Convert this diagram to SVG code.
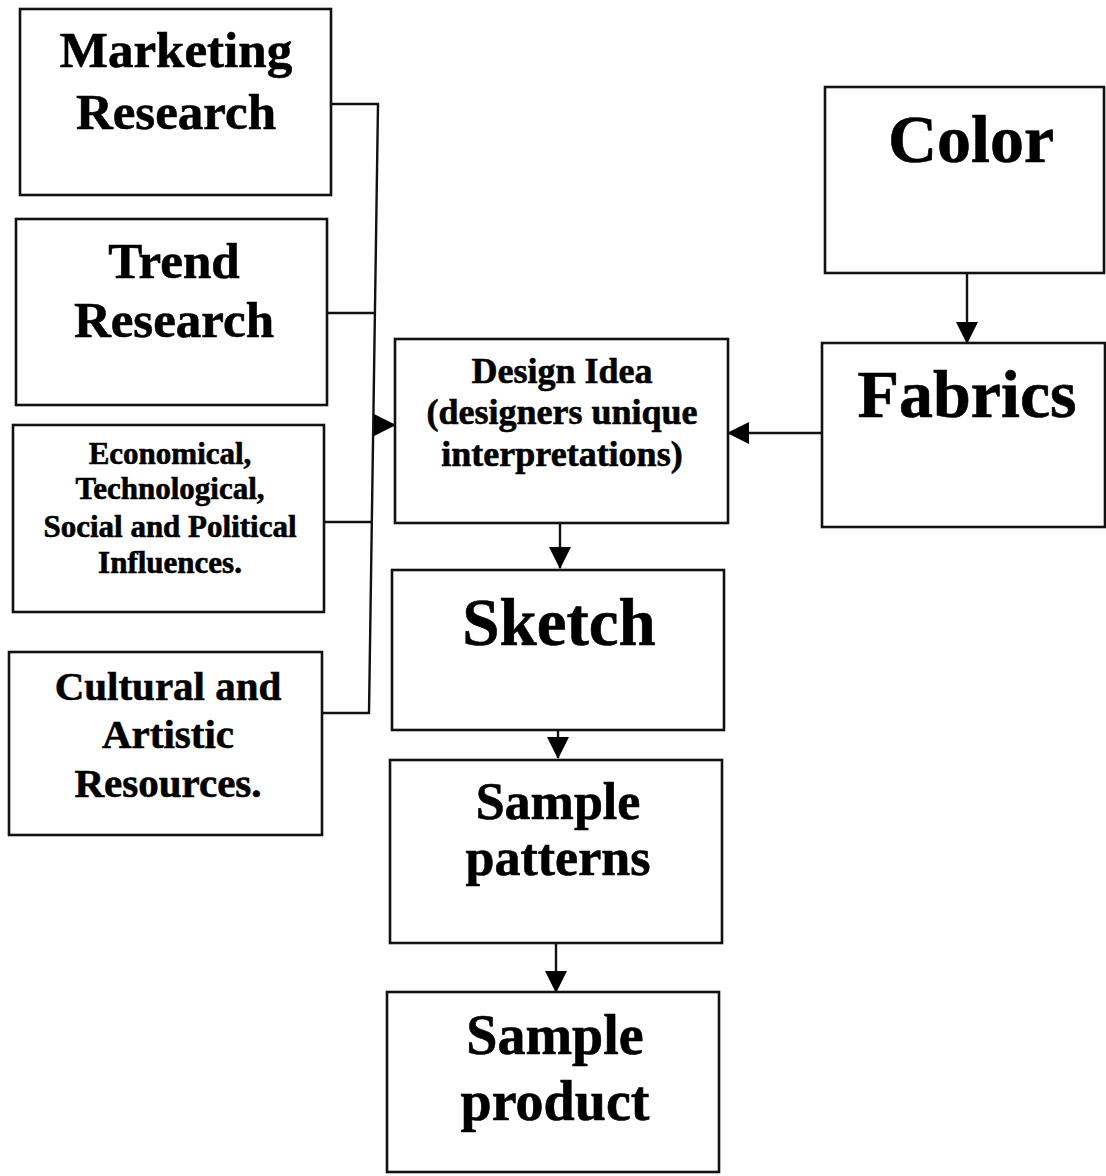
<svg xmlns="http://www.w3.org/2000/svg" width="1106" height="1176" viewBox="0 0 1106 1176">
<style>
.box{fill:#fff;stroke:#111;stroke-width:2.6}
.t{font-family:"Liberation Serif","Times New Roman",serif;font-weight:bold;fill:#000;text-anchor:middle;stroke:#000;stroke-width:0.6}
.ln{fill:none;stroke:#111;stroke-width:2.4}
</style>
<defs>
<marker id="ah" markerUnits="userSpaceOnUse" viewBox="0 0 22 22" markerWidth="22" markerHeight="22" refX="21" refY="11" orient="auto">
<path d="M0,0 L22,11 L0,22 Z" fill="#000"/>
</marker>
</defs>
<rect width="1106" height="1176" fill="#fff"/>
<g id="connectors">
<polyline class="ln" points="331,104 378,104 369,713 322,713"/>
<line class="ln" x1="327" y1="313" x2="376" y2="313"/>
<line class="ln" x1="324" y1="522" x2="371" y2="522"/>
<line class="ln" x1="374" y1="425" x2="395" y2="425" marker-end="url(#ah)"/>
<line class="ln" x1="822" y1="433" x2="728" y2="433" marker-end="url(#ah)"/>
<line class="ln" x1="967" y1="273" x2="967" y2="343" marker-end="url(#ah)"/>
<line class="ln" x1="560" y1="523" x2="560" y2="568" marker-end="url(#ah)"/>
<line class="ln" x1="558" y1="730" x2="558" y2="758" marker-end="url(#ah)"/>
<line class="ln" x1="556" y1="943" x2="556" y2="992" marker-end="url(#ah)"/>
</g>
<g id="marketing">
<rect class="box" x="20" y="9" width="311" height="186"/>
<text class="t" x="176" y="67" font-size="51">Marketing</text>
<text class="t" x="176" y="129" font-size="51">Research</text>
</g>
<g id="trend">
<rect class="box" x="16" y="219" width="311" height="186"/>
<text class="t" x="174" y="278" font-size="51">Trend</text>
<text class="t" x="174" y="337" font-size="51">Research</text>
</g>
<g id="influences">
<rect class="box" x="13" y="425" width="311" height="187"/>
<text class="t" x="170" y="464" font-size="31">Economical,</text>
<text class="t" x="170" y="499" font-size="31">Technological,</text>
<text class="t" x="170" y="537" font-size="31">Social and Political</text>
<text class="t" x="170" y="573" font-size="31">Influences.</text>
</g>
<g id="cultural">
<rect class="box" x="9" y="652" width="313" height="183"/>
<text class="t" x="168" y="700" font-size="41">Cultural and</text>
<text class="t" x="168" y="748" font-size="41">Artistic</text>
<text class="t" x="168" y="797" font-size="41">Resources.</text>
</g>
<g id="design-idea">
<rect class="box" x="395" y="339" width="333" height="184"/>
<text class="t" x="562" y="383" font-size="36">Design Idea</text>
<text class="t" x="562" y="424" font-size="36">(designers unique</text>
<text class="t" x="562" y="466" font-size="36">interpretations)</text>
</g>
<g id="color">
<rect class="box" x="825" y="87" width="279" height="186"/>
<text class="t" x="971" y="162" font-size="68">Color</text>
</g>
<g id="fabrics">
<rect class="box" x="822" y="343" width="283" height="184"/>
<text class="t" x="967" y="417" font-size="68">Fabrics</text>
</g>
<g id="sketch">
<rect class="box" x="392" y="570" width="332" height="160"/>
<text class="t" x="559" y="645" font-size="67">Sketch</text>
</g>
<g id="sample-patterns">
<rect class="box" x="390" y="760" width="332" height="183"/>
<text class="t" x="558" y="819" font-size="52">Sample</text>
<text class="t" x="558" y="875" font-size="52">patterns</text>
</g>
<g id="sample-product">
<rect class="box" x="387" y="992" width="332" height="180"/>
<text class="t" x="555" y="1054" font-size="56">Sample</text>
<text class="t" x="555" y="1120" font-size="56">product</text>
</g>
</svg>
